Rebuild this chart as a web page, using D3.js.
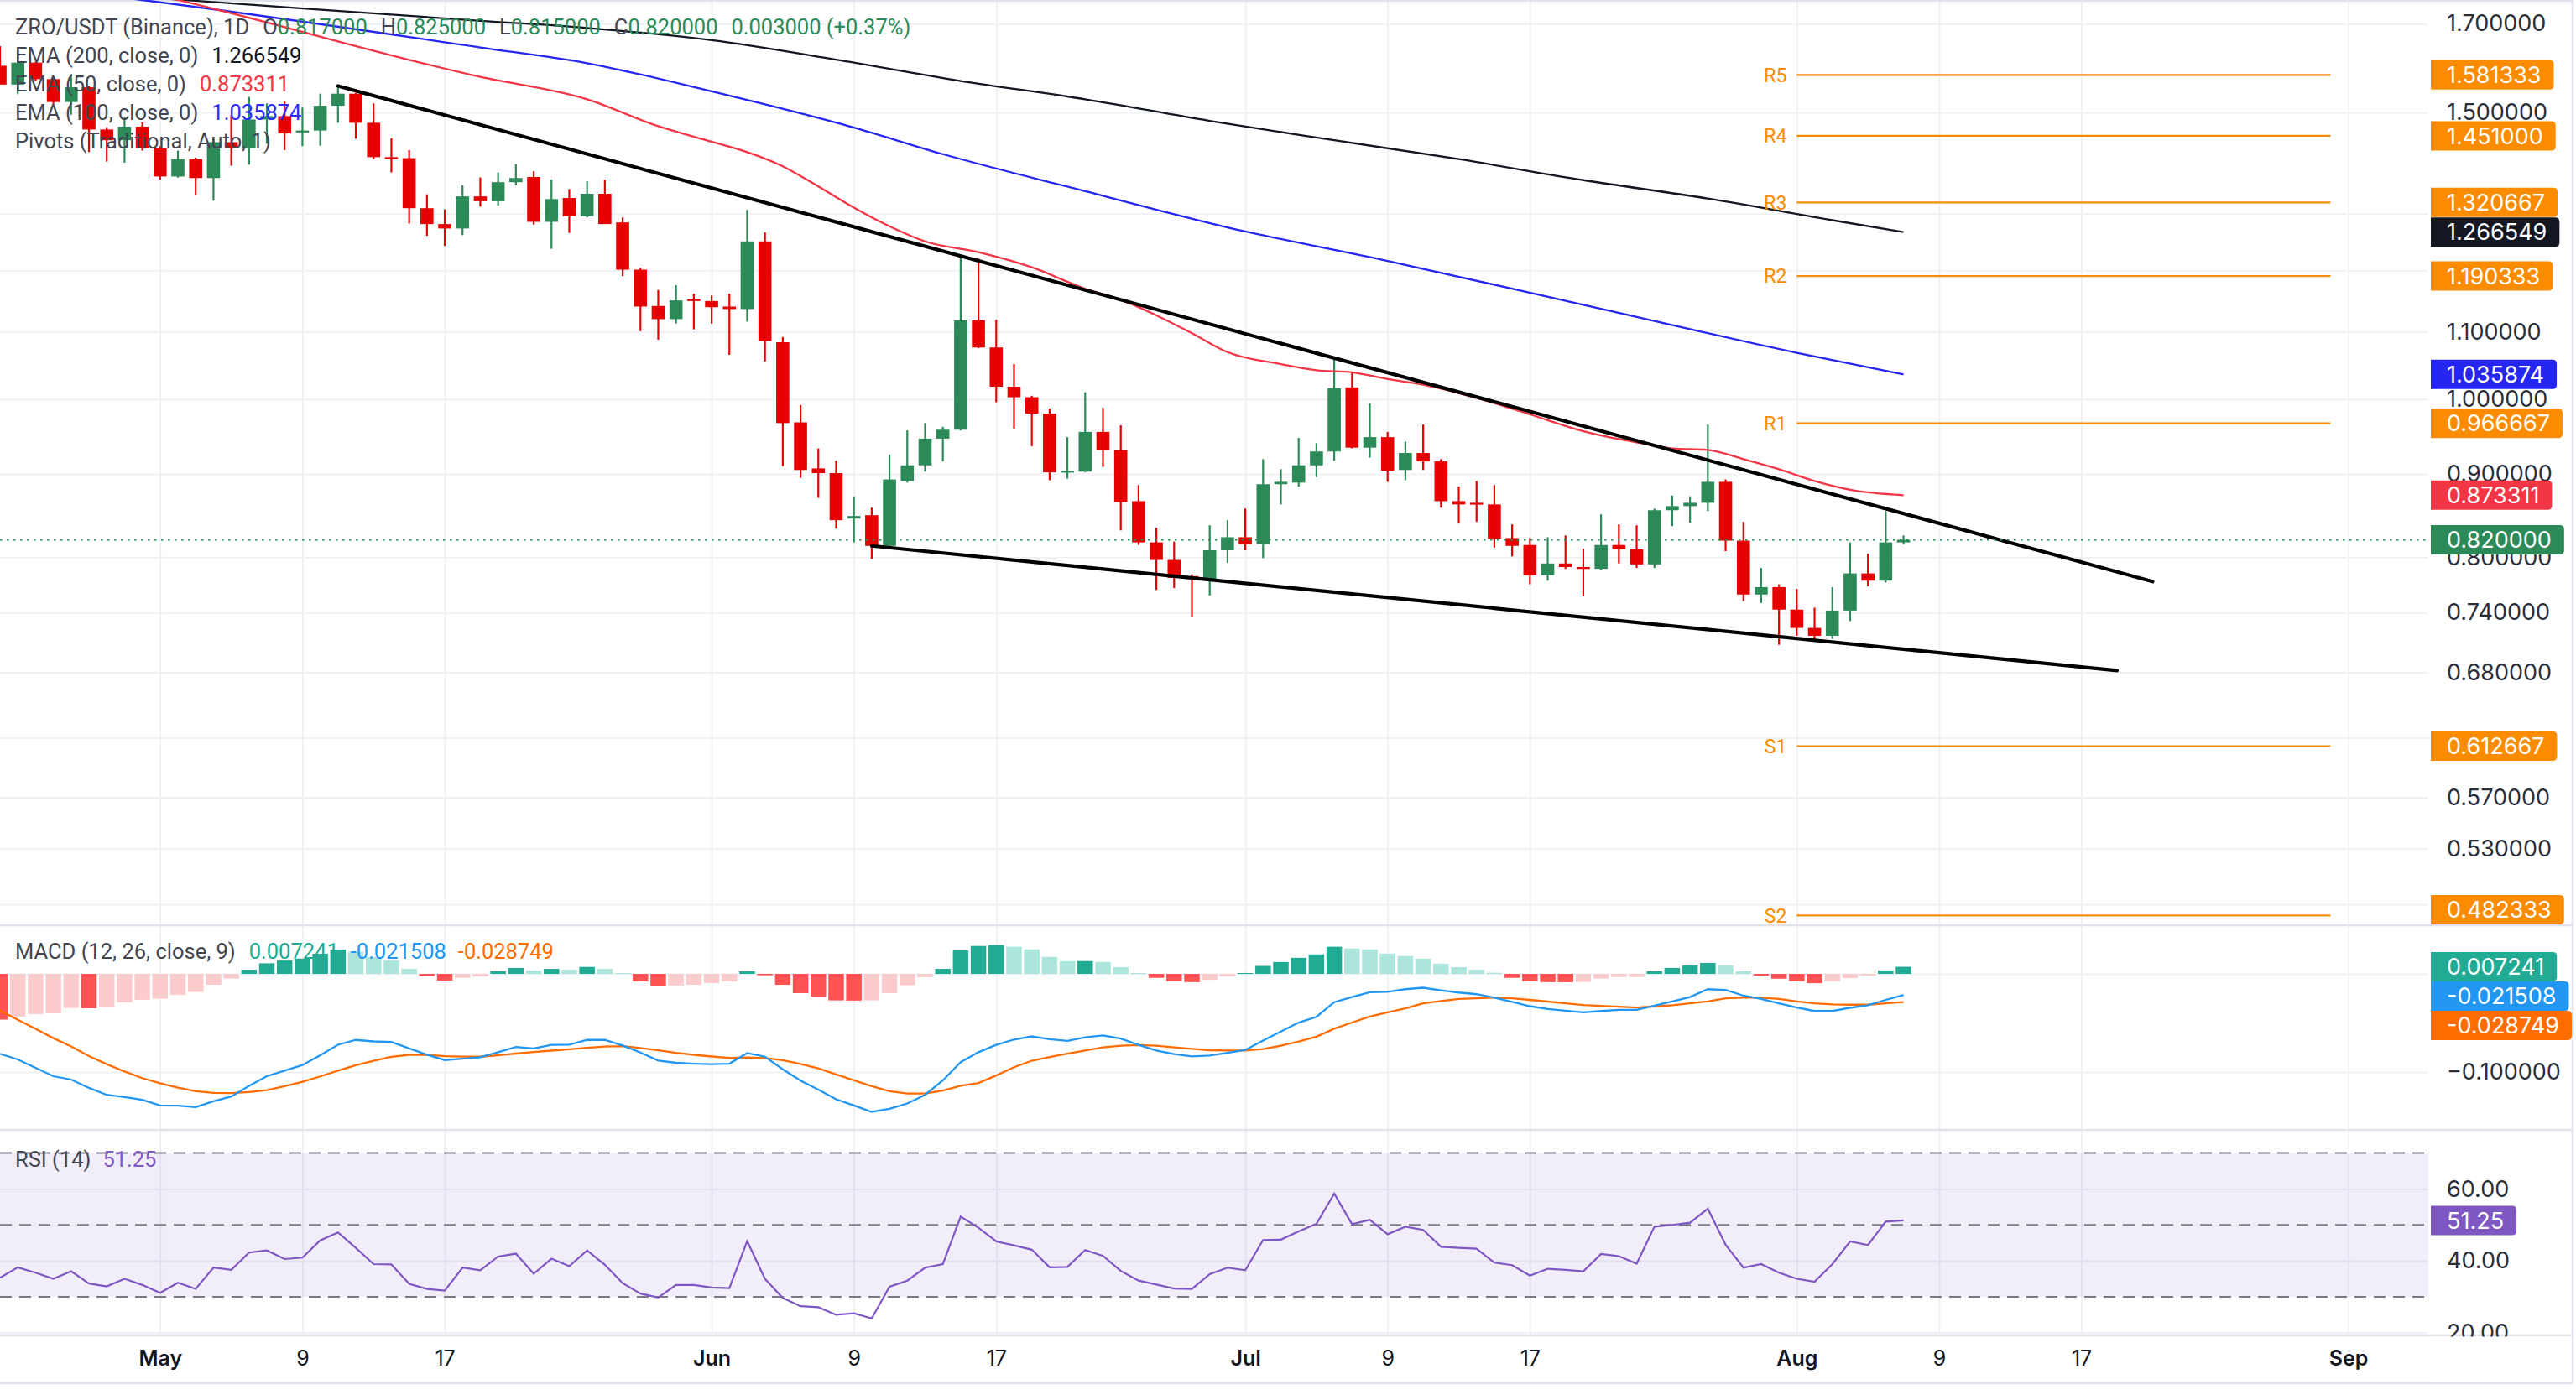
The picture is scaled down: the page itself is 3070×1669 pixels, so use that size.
<!DOCTYPE html>
<html><head><meta charset="utf-8">
<script src="https://cdn.jsdelivr.net/npm/d3@7/dist/d3.min.js"></script>
<style>
html,body{margin:0;padding:0;background:#fff;}
svg{display:block;}
</style></head><body>
<svg id="chart" width="3070" height="1669"></svg>
<script>
// ---------------- DATA ----------------
const firstDay = "2025-04-22", lastDay = "2025-08-07";
const openP = [1.602,1.560,1.609,1.572,1.522,1.554,1.464,1.442,1.470,
 1.426,1.370,1.404,1.367,1.438,1.426,1.485,1.492,1.458,1.462,1.514,1.540,1.478,1.408,1.406,1.310,1.281,1.273,1.332,1.323,1.359,1.369,1.285,1.329,1.295,1.337,1.284,1.201,1.141,1.120,1.152,
 1.149,1.140,1.136,1.250,1.084,0.968,0.907,0.901,0.845,0.849,0.813,0.891,0.911,0.946,0.958,1.118,1.076,1.018,1.003,0.980,0.902,0.903,0.955,0.931,0.866,0.817,0.797,0.779,0.776,0.808,
 0.823,0.815,0.887,0.889,0.911,0.929,1.017,0.934,0.948,0.905,0.927,0.916,0.866,0.864,0.862,0.822,0.814,0.780,0.793,0.789,0.787,0.814,0.809,0.792,0.855,0.860,0.864,0.890,0.819,0.759,0.767,
 0.743,0.724,0.716,0.742,0.782,0.774,0.817];
const highP = [1.647,1.637,1.611,1.575,1.583,1.556,1.469,1.490,1.479,
 1.430,1.421,1.407,1.445,1.495,1.533,1.519,1.523,1.510,1.540,1.559,1.542,1.519,1.446,1.422,1.336,1.308,1.353,1.368,1.378,1.394,1.380,1.364,1.346,1.361,1.364,1.293,1.204,1.167,1.175,1.161,
 1.158,1.161,1.307,1.266,1.092,0.992,0.933,0.917,0.872,0.858,0.925,0.957,0.967,0.962,1.225,1.220,1.119,1.051,1.005,0.987,0.948,1.010,0.988,0.964,0.886,0.834,0.818,0.781,0.837,0.843,
 0.857,0.919,0.906,0.947,0.940,1.062,1.040,0.994,0.955,0.942,0.965,0.919,0.884,0.891,0.886,0.838,0.822,0.823,0.825,0.810,0.850,0.838,0.837,0.857,0.873,0.872,0.965,0.893,0.841,0.788,0.770,
 0.765,0.745,0.767,0.817,0.804,0.854,0.825];
const lowP = [1.560,1.539,1.568,1.518,1.495,1.418,1.399,1.397,1.421,
 1.364,1.368,1.335,1.324,1.391,1.393,1.435,1.422,1.430,1.431,1.478,1.445,1.404,1.378,1.282,1.260,1.242,1.261,1.313,1.315,1.353,1.280,1.237,1.265,1.293,1.281,1.190,1.101,1.088,1.113,1.104,
 1.113,1.065,1.116,1.055,0.910,0.895,0.870,0.833,0.817,0.798,0.813,0.889,0.903,0.916,0.957,1.075,0.996,0.959,0.936,0.892,0.894,0.902,0.909,0.831,0.814,0.764,0.766,0.735,0.758,0.794,
 0.808,0.799,0.862,0.884,0.896,0.917,0.933,0.921,0.890,0.892,0.905,0.858,0.839,0.841,0.811,0.801,0.770,0.774,0.787,0.757,0.786,0.793,0.788,0.788,0.836,0.840,0.854,0.807,0.752,0.750,0.707,
 0.716,0.711,0.713,0.731,0.768,0.772,0.815];
const closeP = [1.560,1.609,1.572,1.522,1.554,1.464,1.442,1.470,1.426,
 1.370,1.404,1.367,1.438,1.426,1.485,1.492,1.456,1.462,1.514,1.540,1.478,1.408,1.406,1.310,1.281,1.273,1.332,1.323,1.359,1.367,1.285,1.327,1.295,1.337,1.281,1.201,1.140,1.120,1.150,1.149,
 1.139,1.136,1.250,1.086,0.967,0.905,0.901,0.843,0.848,0.813,0.893,0.911,0.946,0.958,1.118,1.076,1.018,1.003,0.980,0.902,0.904,0.955,0.931,0.865,0.817,0.797,0.777,0.777,0.808,0.823,
 0.815,0.887,0.890,0.911,0.929,1.016,0.934,0.948,0.904,0.927,0.916,0.866,0.862,0.862,0.821,0.813,0.780,0.793,0.789,0.787,0.814,0.809,0.792,0.855,0.860,0.864,0.890,0.819,0.759,0.767,0.743,
 0.724,0.716,0.742,0.782,0.774,0.817,0.820];

const ema200Dates = ["2025-04-22","2025-05-03","2025-05-19","2025-05-25","2025-06-01","2025-06-08","2025-06-15","2025-06-22","2025-06-29","2025-07-06","2025-07-13","2025-07-20","2025-07-27","2025-08-03","2025-08-07"];
const ema200 = [1.790,1.756,1.707,1.690,1.661,1.616,1.568,1.528,1.482,1.442,1.404,1.363,1.328,1.288,1.266549];
const ema100Dates = ["2025-04-22","2025-04-30","2025-05-19","2025-05-25","2025-06-01","2025-06-09","2025-06-14","2025-06-22","2025-06-30","2025-07-09","2025-07-20","2025-08-01","2025-08-07"];
const ema100 = [1.800,1.758,1.644,1.608,1.545,1.468,1.414,1.342,1.275,1.216,1.143,1.068,1.035874];
const ema50Dates = ["2025-04-22","2025-05-02","2025-05-19","2025-05-25","2025-05-29","2025-06-01","2025-06-03","2025-06-05","2025-06-07","2025-06-09","2025-06-11","2025-06-13","2025-06-16","2025-06-19","2025-06-22","2025-06-24","2025-06-26","2025-06-28","2025-06-30","2025-07-03","2025-07-05","2025-07-07","2025-07-09","2025-07-11","2025-07-14","2025-07-17","2025-07-20","2025-07-23","2025-07-25","2025-07-27","2025-07-29","2025-07-31","2025-08-02","2025-08-04","2025-08-07"];
const ema50 = [1.860,1.758,1.577,1.528,1.471,1.439,1.418,1.390,1.351,1.311,1.277,1.250,1.231,1.205,1.169,1.151,1.126,1.098,1.069,1.051,1.042,1.039,1.029,1.021,1.002,0.979,0.956,0.941,0.933,0.931,0.919,0.906,0.891,0.880,0.873311];

const macdLine = [-0.0815,-0.0872,-0.0957,-0.1043,-0.1077,-0.1162,-0.1233,-0.1256,-0.1284,
 -0.1341,-0.1344,-0.1358,-0.1298,-0.1250,-0.1142,-0.1043,-0.0986,-0.0929,-0.0830,-0.0722,-0.0673,-0.0688,-0.0693,-0.0759,-0.0824,-0.0878,-0.0864,-0.0849,-0.0798,-0.0744,-0.0759,-0.0724,-0.0722,-0.0673,-0.0673,-0.0730,-0.0801,-0.0884,-0.0906,-0.0915,
 -0.0920,-0.0915,-0.0807,-0.0844,-0.0972,-0.1088,-0.1179,-0.1278,-0.1341,-0.1406,-0.1375,-0.1321,-0.1233,-0.1085,-0.0900,-0.0798,-0.0723,-0.0669,-0.0637,-0.0666,-0.0683,-0.0646,-0.0628,-0.0660,-0.0723,-0.0781,-0.0818,-0.0841,-0.0833,-0.0804,
 -0.0775,-0.0680,-0.0588,-0.0496,-0.0438,-0.0288,-0.0236,-0.0187,-0.0182,-0.0156,-0.0141,-0.0167,-0.0190,-0.0207,-0.0242,-0.0285,-0.0329,-0.0357,-0.0375,-0.0392,-0.0378,-0.0366,-0.0366,-0.0323,-0.0280,-0.0236,-0.0156,-0.0164,-0.0222,-0.0256,-0.0300,
 -0.0343,-0.0378,-0.0378,-0.0346,-0.0320,-0.0265,-0.021508];
const signalLine = [-0.0375,-0.0468,-0.0560,-0.0655,-0.0740,-0.0838,-0.0920,-0.0995,-0.1062,
 -0.1115,-0.1160,-0.1195,-0.1213,-0.1215,-0.1205,-0.1185,-0.1145,-0.1099,-0.1045,-0.0986,-0.0930,-0.0885,-0.0845,-0.0825,-0.0825,-0.0838,-0.0843,-0.0844,-0.0830,-0.0812,-0.0796,-0.0782,-0.0768,-0.0753,-0.0740,-0.0737,-0.0755,-0.0778,-0.0805,-0.0825,
 -0.0842,-0.0855,-0.0852,-0.0858,-0.0880,-0.0918,-0.0963,-0.1025,-0.1085,-0.1145,-0.1195,-0.1220,-0.1218,-0.1190,-0.1140,-0.1112,-0.1035,-0.0951,-0.0885,-0.0847,-0.0813,-0.0781,-0.0749,-0.0732,-0.0726,-0.0732,-0.0749,-0.0764,-0.0778,-0.0781,
 -0.0781,-0.0767,-0.0732,-0.0689,-0.0640,-0.0559,-0.0496,-0.0435,-0.0392,-0.0352,-0.0300,-0.0277,-0.0256,-0.0248,-0.0242,-0.0248,-0.0265,-0.0282,-0.0300,-0.0317,-0.0326,-0.0334,-0.0343,-0.0331,-0.0320,-0.0300,-0.0280,-0.0248,-0.0242,-0.0242,-0.0256,
 -0.0280,-0.0300,-0.0311,-0.0314,-0.0314,-0.0300,-0.028749];
const macdHist = [-0.0466,-0.0435,-0.0409,-0.0401,-0.0347,-0.0350,-0.0338,-0.0290,-0.0264,
 -0.0253,-0.0213,-0.0185,-0.0111,-0.0048,0.0043,0.0108,0.0136,0.0156,0.0205,0.0247,0.0227,0.0173,0.0136,0.0051,-0.0023,-0.0068,-0.0040,-0.0026,0.0026,0.0060,0.0034,0.0051,0.0043,0.0071,0.0051,0.0009,-0.0077,-0.0128,-0.0119,-0.0111,
 -0.0094,-0.0077,0.0026,-0.0014,-0.0111,-0.0196,-0.0230,-0.0270,-0.0272,-0.0270,-0.0196,-0.0116,-0.0034,0.0051,0.0240,0.0285,0.0294,0.0277,0.0251,0.0173,0.0130,0.0131,0.0121,0.0069,0.0009,-0.0040,-0.0075,-0.0084,-0.0061,-0.0026,
 0.0009,0.0081,0.0121,0.0164,0.0199,0.0277,0.0259,0.0251,0.0207,0.0182,0.0156,0.0104,0.0069,0.0043,0.0012,-0.0040,-0.0075,-0.0084,-0.0085,-0.0083,-0.0049,-0.0032,-0.0031,0.0026,0.0061,0.0086,0.0112,0.0086,0.0026,-0.0017,-0.0049,
 -0.0075,-0.0095,-0.0075,-0.0043,-0.0017,0.0035,0.007241];
const rsi14 = [35.3,38.2,36.7,35.0,37.1,33.7,32.9,35.0,33.3,
 31.1,33.9,32.2,38.1,37.5,42.3,42.9,40.5,40.9,45.7,47.9,43.6,39.1,39.0,33.6,32.2,31.7,38.1,37.4,41.2,42.0,36.4,40.6,38.5,42.9,38.9,33.8,30.9,29.8,33.3,33.3,
 32.6,32.4,45.5,35.0,29.7,27.4,27.1,25.0,25.4,24.0,32.8,34.5,38.1,39.1,52.3,49.2,45.4,44.3,43.1,38.2,38.3,43.0,41.4,37.2,34.5,33.4,32.3,32.2,36.3,38.1,
 37.4,45.8,45.9,48.2,50.3,58.7,50.2,51.4,47.4,49.5,48.6,43.9,43.6,43.4,39.5,38.8,35.9,37.8,37.5,37.1,41.9,41.3,39.2,49.5,50.0,50.6,54.5,44.5,38.1,39.1,36.7,
 35.0,34.2,39.1,45.4,44.4,50.9,51.25];

const pivotNames = ["R5","R4","R3","R2","R1","S1","S2"];
const pivotValues = [1.581333,1.451000,1.320667,1.190333,0.966667,0.612667,0.482333];
const pivotFrom = "2025-08-01", pivotTo = "2025-08-31";
const upperTrendDates = ["2025-05-11","2025-08-21"], upperTrendValues = [1.557,0.773];
const lowerTrendDates = ["2025-06-10","2025-08-19"], lowerTrendValues = [0.813,0.6817];

const priceTicks = [1.7,1.5,1.3,1.2,1.1,1.0,0.9,0.8,0.74,0.68,0.62,0.57,0.53,0.49];
const macdTicks = [0,-0.1];
const rsiTicks = [60,40,20];
const rsiLevels = [70,50,30];
const dateTicks = ["2025-05-01","2025-05-09","2025-05-17","2025-06-01","2025-06-09","2025-06-17","2025-07-01","2025-07-09","2025-07-17","2025-08-01","2025-08-09","2025-08-17","2025-09-01"];
const dateTickLabels = ["May","9","17","Jun","9","17","Jul","9","17","Aug","9","17","Sep"];
const monthTicks = ["May","Jun","Jul","Aug","Sep"];

// ---------------- LAYOUT ----------------
const parse = d3.timeParse("%Y-%m-%d");
const dates = d3.timeDay.range(parse(firstDay), d3.timeDay.offset(parse(lastDay), 1));
const plotW = 2894, priceTop = 0, priceBottom = 1103, macdBottom = 1347, rsiBottom = 1592, axisBottom = 1649;
const UP = "#2c8a58", DOWN = "#e60000";
const C_EMA200 = "#131722", C_EMA100 = "#2626f2", C_EMA50 = "#f23645", C_PIV = "#fb8c00";
const GRID = "#eff1f5", SEP = "#e0e3eb", TXT = "#2a2e39", LEG = "#434651";
const FONT = "Inter, 'Noto Sans', Roboto, sans-serif";
const LFONT = "Roboto, 'Noto Sans', sans-serif";
const AXFS = 27, LGFS = 25.5, LBL_H = 35, TEXT_X = plotW + 22;

const svg = d3.select("#chart");
svg.append("rect").attr("width",3070).attr("height",1669).attr("fill","#fff");

const x = d3.scaleTime().domain([new Date(2025,3,22), new Date(2025,8,5,12)]).range([0, plotW]);
const yP = d3.scaleLog().domain([0.4757, 1.758]).range([priceBottom, priceTop]);
const yM = d3.scaleLinear().domain([-0.159, 0.0496]).range([macdBottom, priceBottom]);
const yR = d3.scaleLinear().domain([19.27, 76.41]).range([rsiBottom, macdBottom]);

const defs = svg.append("defs");
function clip(id, y0, y1){
  defs.append("clipPath").attr("id", id).append("rect").attr("x",0).attr("y",y0).attr("width",plotW).attr("height",y1-y0);
  return svg.append("g").attr("clip-path", `url(#${id})`);
}

// vertical grid
const dTicks = dateTicks.map(parse);
svg.append("g").call(d3.axisBottom(x).tickValues(dTicks).tickSize(rsiBottom).tickFormat(""))
  .call(g=>{g.select(".domain").remove(); g.selectAll("line").attr("stroke",GRID).attr("stroke-width",2);});
// horizontal grids
[[yP,priceTicks],[yM,macdTicks],[yR,rsiTicks]].forEach(([sc,tk])=>{
  svg.append("g").call(d3.axisLeft(sc).tickValues(tk).tickSize(-plotW).tickFormat(""))
    .call(g=>{g.select(".domain").remove(); g.selectAll("line").attr("stroke",GRID).attr("stroke-width",2);});
});

// pane separators & frame
[priceBottom, macdBottom, rsiBottom, axisBottom].forEach(yy=>{
  svg.append("line").attr("x1",0).attr("x2",3066).attr("y1",yy).attr("y2",yy).attr("stroke",SEP).attr("stroke-width",2.5);
});
svg.append("line").attr("x1",0).attr("x2",3066).attr("y1",1).attr("y2",1).attr("stroke",SEP).attr("stroke-width",2);
svg.append("line").attr("x1",3066).attr("x2",3066).attr("y1",0).attr("y2",axisBottom).attr("stroke",SEP).attr("stroke-width",2.5);

// ---------------- PRICE PANE ----------------
const gP = clip("cp", priceTop, priceBottom);
const bodyW = 15.6;
const candles = dates.map((d,i)=>({d, o:openP[i], h:highP[i], l:lowP[i], c:closeP[i]}));
gP.selectAll("line.wick").data(candles).join("line")
  .attr("x1",d=>x(d.d)).attr("x2",d=>x(d.d)).attr("y1",d=>yP(d.h)).attr("y2",d=>yP(d.l))
  .attr("stroke",d=>d.c>=d.o?UP:DOWN).attr("stroke-width",2.2);
gP.selectAll("rect.body").data(candles).join("rect")
  .attr("x",d=>x(d.d)-bodyW/2).attr("width",bodyW)
  .attr("y",d=>yP(Math.max(d.o,d.c)))
  .attr("height",d=>Math.max(2.2, yP(Math.min(d.o,d.c))-yP(Math.max(d.o,d.c))))
  .attr("fill",d=>d.c>=d.o?UP:DOWN);

function emaPath(ds, vs, color){
  const pts = ds.map((d,i)=>[parse(d), vs[i]]);
  gP.append("path").datum(pts).attr("fill","none").attr("stroke",color).attr("stroke-width",2.3)
    .attr("d", d3.line().x(p=>x(p[0])).y(p=>yP(p[1])).curve(d3.curveMonotoneX));
}
emaPath(ema200Dates, ema200, C_EMA200);
emaPath(ema100Dates, ema100, C_EMA100);
emaPath(ema50Dates, ema50, C_EMA50);

[[upperTrendDates, upperTrendValues],[lowerTrendDates, lowerTrendValues]].forEach(([ds,vs])=>{
  gP.append("line").attr("x1",x(parse(ds[0]))).attr("y1",yP(vs[0])).attr("x2",x(parse(ds[1]))).attr("y2",yP(vs[1]))
    .attr("stroke","#000").attr("stroke-width",4.2).attr("stroke-linecap","round");
});

pivotValues.forEach((v,i)=>{
  gP.append("line").attr("x1",x(parse(pivotFrom))).attr("x2",x(parse(pivotTo))).attr("y1",yP(v)).attr("y2",yP(v))
    .attr("stroke",C_PIV).attr("stroke-width",2.2);
  gP.append("text").attr("x",x(parse(pivotFrom))-12).attr("y",yP(v)).attr("dy","0.36em").attr("text-anchor","end")
    .attr("font-family",LFONT).attr("font-size",23).attr("fill",C_PIV).text(pivotNames[i]);
});

const lastClose = closeP[closeP.length-1];
gP.append("line").attr("x1",0).attr("x2",plotW).attr("y1",yP(lastClose)).attr("y2",yP(lastClose))
  .attr("stroke",UP).attr("stroke-width",2.2).attr("stroke-dasharray","2.5,5.5");

// ---------------- MACD PANE ----------------
const gM = clip("cm", priceBottom, macdBottom);
const histW = 18.5;
gM.selectAll("rect").data(macdHist).join("rect")
  .attr("x",(v,i)=>x(dates[i])-histW/2).attr("width",histW)
  .attr("y",v=>Math.min(yM(v),yM(0))).attr("height",v=>Math.abs(yM(v)-yM(0)))
  .attr("fill",(v,i)=>{
    const rising = i>0 && v>macdHist[i-1];
    if (v>=0) return rising ? "#22ab94" : "#ace5dc";
    return rising ? "#fccbcd" : "#ff5252";
  });
const lineM = d3.line().x((v,i)=>x(dates[i])).y(v=>yM(v));
gM.append("path").datum(signalLine).attr("fill","none").attr("stroke","#ff6d00").attr("stroke-width",2.3).attr("d",lineM);
gM.append("path").datum(macdLine).attr("fill","none").attr("stroke","#2196f3").attr("stroke-width",2.3).attr("d",lineM);

// ---------------- RSI PANE ----------------
const gR = clip("cr", macdBottom, rsiBottom);
gR.append("rect").attr("x",0).attr("width",plotW).attr("y",yR(rsiLevels[0])).attr("height",yR(rsiLevels[2])-yR(rsiLevels[0]))
  .attr("fill","rgba(126,87,194,0.1)");
rsiLevels.forEach(v=>{
  gR.append("line").attr("x1",0).attr("x2",plotW).attr("y1",yR(v)).attr("y2",yR(v))
    .attr("stroke","#787b86").attr("stroke-width",2).attr("stroke-dasharray","14,9");
});
gR.append("path").datum(rsi14).attr("fill","none").attr("stroke","#7e57c2").attr("stroke-width",2.2)
  .attr("d", d3.line().x((v,i)=>x(dates[i])).y(v=>yR(v)));

// ---------------- LEGENDS ----------------
function legendLine(y, parts){
  const t = svg.append("text").attr("x",18).attr("y",y).attr("dy","0.35em").attr("font-family",LFONT).attr("font-size",LGFS);
  parts.forEach(p=>{ const s=t.append("tspan").attr("fill",p[1]).text(p[0]); if(p[2]) s.attr("dx",p[2]); });
}
const n = closeP.length-1;
const chg = closeP[n]-openP[n];
legendLine(32, [["ZRO/USDT (Binance), 1D",LEG],["O",LEG,16],[openP[n].toFixed(6),UP],["H",LEG,16],[highP[n].toFixed(6),UP],["L",LEG,16],[lowP[n].toFixed(6),UP],["C",LEG,16],[closeP[n].toFixed(6),UP],[chg.toFixed(6)+" (+"+(chg/openP[n]*100).toFixed(2)+"%)",UP,16]]);
legendLine(66, [["EMA (200, close, 0)",LEG],[ema200[ema200.length-1].toFixed(6),C_EMA200,16]]);
legendLine(100, [["EMA (50, close, 0)",LEG],[ema50[ema50.length-1].toFixed(6),C_EMA50,16]]);
legendLine(134, [["EMA (100, close, 0)",LEG],[ema100[ema100.length-1].toFixed(6),"#2a2aff",16]]);
legendLine(168, [["Pivots (Traditional, Auto, 1)",LEG]]);
legendLine(1134, [["MACD (12, 26, close, 9)",LEG],[macdHist[n].toFixed(6),"#22ab94",16],[macdLine[n].toFixed(6),"#2196f3",14],[signalLine[n].toFixed(6),"#ff6d00",14]]);
legendLine(1382, [["RSI (14)",LEG],[rsi14[n].toFixed(2),"#7e57c2",14]]);

// ---------------- VALUE LABEL POSITIONS ----------------
function layoutLabels(items, top, bottom){
  const h = LBL_H;
  items.sort((a,b)=>a.y-b.y);
  items.forEach(it=>{ it.cy = Math.max(top+h/2+1, Math.min(bottom-h/2-1, it.y)); });
  for (let i=1;i<items.length;i++){ if (items[i].cy < items[i-1].cy + h) items[i].cy = items[i-1].cy + h; }
  return items;
}
const priceLabels = pivotValues.map(v=>({y:yP(v), text:v.toFixed(6), color:C_PIV}));
priceLabels.push({y:yP(ema200[ema200.length-1]), text:ema200[ema200.length-1].toFixed(6), color:C_EMA200});
priceLabels.push({y:yP(ema100[ema100.length-1]), text:ema100[ema100.length-1].toFixed(6), color:C_EMA100});
priceLabels.push({y:yP(ema50[ema50.length-1]), text:ema50[ema50.length-1].toFixed(6), color:C_EMA50});
priceLabels.push({y:yP(lastClose), text:lastClose.toFixed(6), color:UP});
priceLabels.forEach(it=>layoutLabels([it], priceTop, priceBottom));
const macdLabels = layoutLabels([
  {y:yM(macdHist[n]), text:macdHist[n].toFixed(6), color:"#22ab94"},
  {y:yM(macdLine[n]), text:macdLine[n].toFixed(6), color:"#2196f3"},
  {y:yM(signalLine[n]), text:signalLine[n].toFixed(6), color:"#ff6d00"}], priceBottom, macdBottom);
const rsiLabels = layoutLabels([{y:yR(rsi14[n]), text:rsi14[n].toFixed(2), color:"#7e57c2"}], macdBottom, rsiBottom);
const allLabels = priceLabels.concat(macdLabels, rsiLabels);
const covered = yy => allLabels.some(l => Math.abs(l.cy - yy) < LBL_H/2 - 1);

// ---------------- AXES LABELS ----------------
function rightAxis(scale, ticks, fmt){
  svg.append("g").attr("transform",`translate(${plotW},0)`)
    .call(d3.axisRight(scale).tickValues(ticks.filter(t=>!covered(scale(t)))).tickSize(0).tickPadding(TEXT_X-plotW).tickFormat(fmt))
    .call(g=>{g.select(".domain").remove(); g.selectAll("text").attr("font-family",FONT).attr("font-size",AXFS).attr("fill",TXT);});
}
rightAxis(yP, priceTicks, d3.format(".6f"));
rightAxis(yM, macdTicks, d3.format(".6f"));
rightAxis(yR, rsiTicks, d3.format(".2f"));
// time axis
svg.append("g").attr("transform",`translate(0,${rsiBottom})`)
  .call(d3.axisBottom(x).tickValues(dTicks).tickSize(0).tickPadding(18).tickFormat((d,i)=>dateTickLabels[i]))
  .call(g=>{g.select(".domain").remove(); g.selectAll("text").attr("font-family",FONT).attr("font-size",25).attr("fill","#131722")
     .attr("font-weight",function(){return monthTicks.includes(this.textContent)?600:400;});});
// axis area below RSI pane hides the overflowing 20.00 label
svg.append("rect").attr("x",plotW+2).attr("y",rsiBottom+1.5).attr("width",3066-plotW-3.5).attr("height",axisBottom-rsiBottom-3).attr("fill","#fff");

// ---------------- VALUE LABELS ----------------
allLabels.forEach(it=>{
  const g = svg.append("g");
  const t = g.append("text").attr("x",TEXT_X).attr("y",it.cy).attr("dy","0.36em")
    .attr("font-family",FONT).attr("font-size",AXFS).attr("fill","#fff").text(it.text);
  const x0 = plotW+3, y0 = it.cy-LBL_H/2, r=5, h=LBL_H;
  const w = (TEXT_X - x0) + t.node().getComputedTextLength() + 15;
  g.insert("path","text").attr("fill",it.color)
    .attr("d",`M${x0},${y0} H${x0+w-r} Q${x0+w},${y0} ${x0+w},${y0+r} V${y0+h-r} Q${x0+w},${y0+h} ${x0+w-r},${y0+h} H${x0} Z`);
});
</script></body></html>
